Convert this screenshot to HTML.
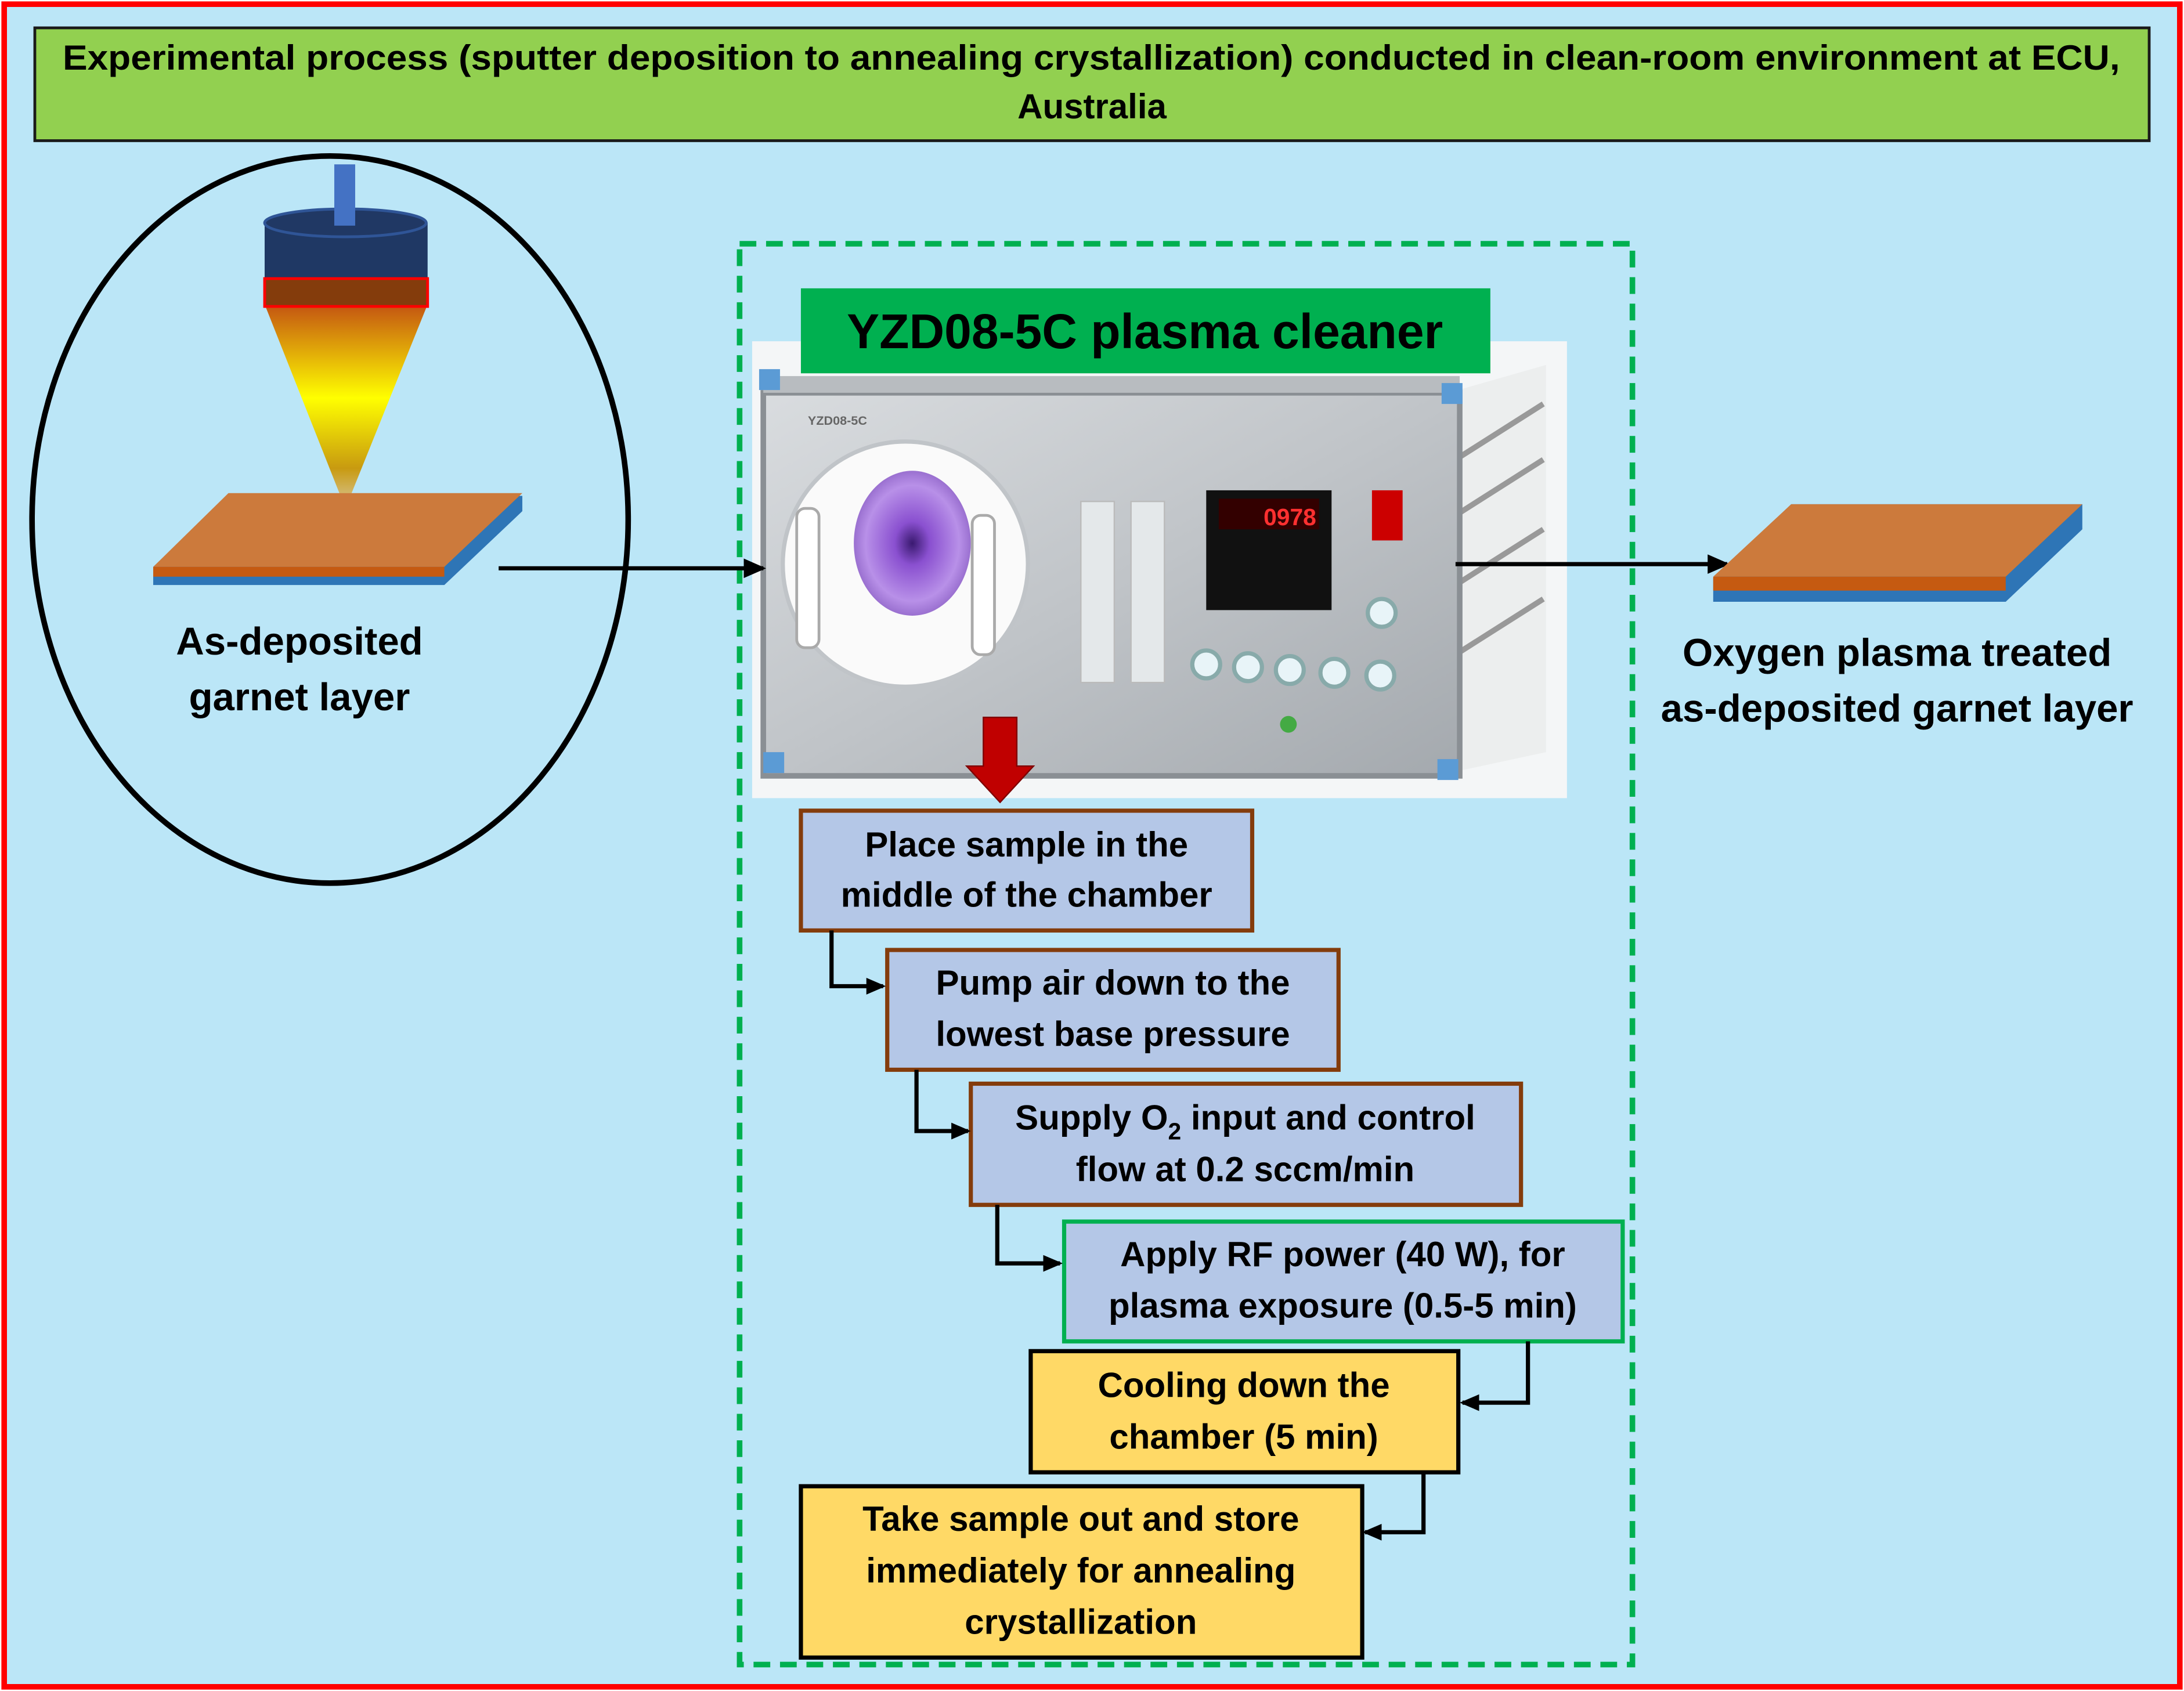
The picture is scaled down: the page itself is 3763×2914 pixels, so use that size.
<!DOCTYPE html>
<html><head><meta charset="utf-8"><style>
html,body{margin:0;padding:0;}
svg{display:block;}
text{font-family:"Liberation Sans",sans-serif;font-weight:bold;fill:#000;}
</style></head><body>
<svg width="3763" height="2914" viewBox="0 0 1568 1214" preserveAspectRatio="none" xmlns="http://www.w3.org/2000/svg">
<defs>
<linearGradient id="cone" x1="0" y1="0" x2="0" y2="1">
<stop offset="0" stop-color="#c55a11"/><stop offset="0.45" stop-color="#ffff00"/><stop offset="0.8" stop-color="#c89a10"/><stop offset="1" stop-color="#d8c8a0"/>
</linearGradient>
<linearGradient id="panel" x1="0" y1="0" x2="1" y2="1">
<stop offset="0" stop-color="#d9dcdf"/><stop offset="0.5" stop-color="#c0c4c8"/><stop offset="1" stop-color="#a4a9ae"/>
</linearGradient>
<radialGradient id="purp" cx="0.5" cy="0.5" r="0.5">
<stop offset="0" stop-color="#3a1a70"/><stop offset="0.3" stop-color="#8a50d0"/><stop offset="0.8" stop-color="#b890e8"/><stop offset="1" stop-color="#9a70d0"/>
</radialGradient>
<marker id="ah" markerWidth="14" markerHeight="12" refX="12" refY="6" orient="auto" markerUnits="userSpaceOnUse">
<path d="M0,0 L14,6 L0,12 z" fill="#000"/></marker>
<marker id="ah2" markerWidth="16" markerHeight="14" refX="14" refY="7" orient="auto" markerUnits="userSpaceOnUse">
<path d="M0,0 L16,7 L0,14 z" fill="#000"/></marker>
</defs>
<rect x="0" y="0" width="1568" height="1214" fill="#fff"/>
<rect x="3" y="3" width="1562" height="1208" fill="#bbe6f7" stroke="#ff0000" stroke-width="4"/>
<rect x="25" y="20" width="1518" height="81" fill="#92d050" stroke="#1a1a1a" stroke-width="2"/>
<text x="45" y="50" font-size="25" textLength="1477" lengthAdjust="spacingAndGlyphs">Experimental process  (sputter deposition to annealing crystallization) conducted in clean-room environment at ECU,</text>
<text x="784" y="85" font-size="25" text-anchor="middle">Australia</text>

<ellipse cx="237" cy="373" rx="214" ry="261" fill="none" stroke="#000" stroke-width="4"/>
<rect x="190" y="160" width="117" height="40" fill="#1f3864"/>
<ellipse cx="248" cy="160" rx="58" ry="10" fill="#203864" stroke="#2f5597" stroke-width="2"/>
<rect x="240" y="118" width="15" height="44" fill="#4472c4"/>
<rect x="190" y="200" width="117" height="20" fill="#843c0c" stroke="#ff0000" stroke-width="2"/>
<polygon points="191,221 306,221 248,365" fill="url(#cone)"/>

<polygon points="110,420 319,420 375,367 375,356 164,356 110,407" fill="#2e75b6"/>
<polygon points="110,407 164,354 375,354 319,407" fill="#cc7a3c"/>
<polygon points="110,407 319,407 319,414 110,414" fill="#c55a11"/>
<text x="215" y="470" font-size="28" text-anchor="middle">As-deposited</text>
<text x="215" y="510" font-size="28" text-anchor="middle">garnet layer</text>

<rect x="531" y="175" width="641" height="1020" fill="none" stroke="#00b050" stroke-width="4" stroke-dasharray="12,7"/>

<rect x="540" y="245" width="585" height="328" fill="#f4f6f7"/>
<polygon points="1040,282 1110,262 1110,540 1040,555" fill="#eceeee"/>
<line x1="1045" y1="330" x2="1108" y2="290" stroke="#999" stroke-width="4"/>
<line x1="1045" y1="370" x2="1108" y2="330" stroke="#999" stroke-width="4"/>
<line x1="1045" y1="420" x2="1108" y2="380" stroke="#999" stroke-width="4"/>
<line x1="1045" y1="470" x2="1108" y2="430" stroke="#999" stroke-width="4"/>
<rect x="548" y="282" width="500" height="275" fill="url(#panel)" stroke="#8a8f94" stroke-width="4"/>
<rect x="548" y="270" width="500" height="12" fill="#b8bcc0"/>
<path d="M545,265 l15,0 l0,15 l-15,0z M1035,275 l15,0 l0,15 l-15,0z M548,540 l15,0 l0,15 l-15,0z M1032,545 l15,0 l0,15 l-15,0z" fill="#5b9bd5"/>
<text x="580" y="305" font-size="9" style="fill:#666">YZD08-5C</text>
<circle cx="650" cy="405" r="88" fill="#fafafa" stroke="#c0c4c8" stroke-width="3"/>
<ellipse cx="655" cy="390" rx="42" ry="52" fill="url(#purp)"/>
<rect x="572" y="365" width="16" height="100" rx="6" fill="#fff" stroke="#aaa" stroke-width="2"/>
<rect x="698" y="370" width="16" height="100" rx="6" fill="#fff" stroke="#aaa" stroke-width="2"/>
<rect x="776" y="360" width="24" height="130" fill="#e4e8ea" stroke="#bbb"/>
<rect x="812" y="360" width="24" height="130" fill="#e4e8ea" stroke="#bbb"/>
<rect x="866" y="352" width="90" height="86" fill="#111"/>
<rect x="875" y="358" width="72" height="22" fill="#300"/>
<text x="945" y="377" font-size="17" text-anchor="end" style="fill:#ff3030">0978</text>
<rect x="985" y="352" width="22" height="36" fill="#cc0000"/>
<g fill="#e8f4f8" stroke="#8aa" stroke-width="3">
<circle cx="992" cy="440" r="10"/>
<circle cx="866" cy="477" r="10"/><circle cx="896" cy="479" r="10"/><circle cx="926" cy="481" r="10"/><circle cx="958" cy="483" r="10"/><circle cx="991" cy="485" r="10"/>
</g>
<circle cx="925" cy="520" r="6" fill="#4a4"/>

<rect x="575" y="207" width="495" height="61" fill="#00b050"/>
<text x="822" y="250" font-size="35" text-anchor="middle">YZD08-5C plasma cleaner</text>

<line x1="358" y1="408" x2="548" y2="408" stroke="#000" stroke-width="3" marker-end="url(#ah2)"/>
<line x1="1045" y1="405" x2="1240" y2="405" stroke="#000" stroke-width="3" marker-end="url(#ah2)"/>

<polygon points="1230,432 1440,432 1495,380 1495,362 1286,362 1230,415" fill="#2e75b6"/>
<polygon points="1230,414 1286,362 1495,362 1440,414" fill="#cc7a3c"/>
<polygon points="1230,414 1440,414 1440,424 1230,424" fill="#c55a11"/>
<text x="1362" y="478" font-size="28" text-anchor="middle">Oxygen plasma treated</text>
<text x="1362" y="518" font-size="28" text-anchor="middle">as-deposited garnet layer</text>

<polygon points="706,515 730,515 730,550 742,550 718,576 694,550 706,550" fill="#c00000" stroke="#7f0000" stroke-width="1"/>

<rect x="575" y="582" width="324" height="86" fill="#b4c7e7" stroke="#843c0c" stroke-width="3"/>
<text x="737" y="615" font-size="25" text-anchor="middle">Place sample in the</text>
<text x="737" y="651" font-size="25" text-anchor="middle">middle of the chamber</text>

<rect x="637" y="682" width="324" height="86" fill="#b4c7e7" stroke="#843c0c" stroke-width="3"/>
<text x="799" y="714" font-size="25" text-anchor="middle">Pump air down to the</text>
<text x="799" y="751" font-size="25" text-anchor="middle">lowest base pressure</text>

<rect x="697" y="778" width="395" height="87" fill="#b4c7e7" stroke="#843c0c" stroke-width="3"/>
<text x="894" y="811" font-size="25" text-anchor="middle">Supply O<tspan font-size="17" dy="7">2</tspan><tspan dy="-7"> input and control</tspan></text>
<text x="894" y="848" font-size="25" text-anchor="middle">flow at 0.2 sccm/min</text>

<rect x="764" y="877" width="401" height="86" fill="#b4c7e7" stroke="#00b050" stroke-width="3"/>
<text x="964" y="909" font-size="25" text-anchor="middle">Apply RF power (40 W),  for</text>
<text x="964" y="946" font-size="25" text-anchor="middle">plasma exposure (0.5-5 min)</text>

<rect x="740" y="970" width="307" height="87" fill="#ffd966" stroke="#000" stroke-width="3"/>
<text x="893" y="1003" font-size="25" text-anchor="middle">Cooling down the</text>
<text x="893" y="1040" font-size="25" text-anchor="middle">chamber (5 min)</text>

<rect x="575" y="1067" width="403" height="123" fill="#ffd966" stroke="#000" stroke-width="3"/>
<text x="776" y="1099" font-size="25" text-anchor="middle">Take sample out and store</text>
<text x="776" y="1136" font-size="25" text-anchor="middle">immediately for annealing</text>
<text x="776" y="1173" font-size="25" text-anchor="middle">crystallization</text>

<g fill="none" stroke="#000" stroke-width="3">
<polyline points="597,668 597,708 634,708" marker-end="url(#ah)"/>
<polyline points="658,768 658,812 695,812" marker-end="url(#ah)"/>
<polyline points="716,865 716,907 761,907" marker-end="url(#ah)"/>
<polyline points="1097,963 1097,1007 1050,1007" marker-end="url(#ah)"/>
<polyline points="1022,1057 1022,1100 980,1100" marker-end="url(#ah)"/>
</g>
</svg>
</body></html>
